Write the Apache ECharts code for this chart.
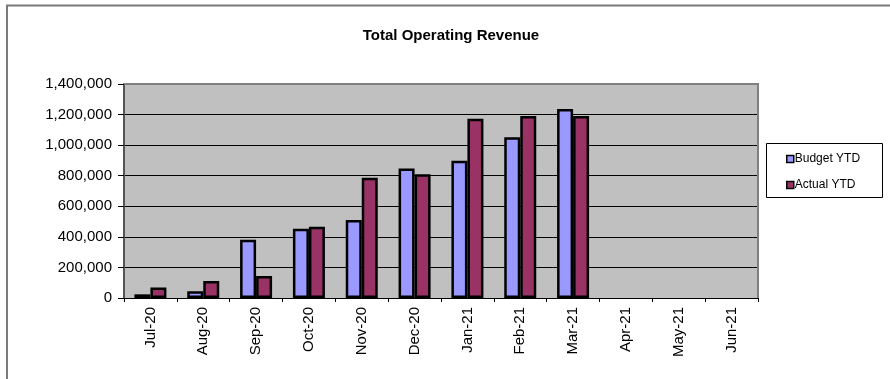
<!DOCTYPE html>
<html>
<head>
<meta charset="utf-8">
<script src="https://cdn.jsdelivr.net/npm/echarts@6/dist/echarts.min.js"></script>
<style>
  html, body { margin: 0; padding: 0; background: #fff; }
  #chart { width: 890px; height: 379px; }
</style>
</head>
<body>
<div id="chart"></div>
<script>
// Monthly year-to-date revenue, FY Jul-20 .. Jun-21
const months = ['Jul-20', 'Aug-20', 'Sep-20', 'Oct-20', 'Nov-20', 'Dec-20',
                'Jan-21', 'Feb-21', 'Mar-21', 'Apr-21', 'May-21', 'Jun-21'];
const budgetYTD = [24000, 44000, 381000, 453000, 510000, 848000,
                   898000, 1051000, 1236000, null, null, null];
const actualYTD = [68000, 111000, 144000, 466000, 787000, 809000,
                   1173000, 1191000, 1191000, null, null, null];

const chart = echarts.init(document.getElementById('chart'), null, { renderer: 'canvas' });

const fontFamily = 'Liberation Sans, Arial, sans-serif';

chart.setOption({
  animation: false,
  backgroundColor: '#ffffff',
  title: {
    text: 'Total Operating Revenue',
    left: 446,
    top: 23,
    textAlign: 'center',
    textStyle: { fontFamily, fontSize: 15, fontWeight: 'bold', color: '#000' }
  },
  graphic: [
    // outer chart frame (top and left edges visible)
    { type: 'polyline', shape: { points: [[7, 379], [7, 5.5], [890, 5.5]] },
      style: { stroke: '#7a7a7a', lineWidth: 2, fill: null } },
    // plot area top / right border
    { type: 'polyline', shape: { points: [[124, 84], [758, 84], [758, 298]] },
      style: { stroke: '#808080', lineWidth: 2, fill: null }, z: 10 },
    // legend frame
    { type: 'rect', shape: { x: 766.5, y: 143.5, width: 116, height: 54 },
      style: { stroke: '#000', lineWidth: 1, fill: '#fff' }, z: 0 }
  ],
  legend: {
    orient: 'vertical',
    left: 781,
    top: 148,
    itemWidth: 7,
    itemHeight: 7,
    itemGap: 14,
    icon: 'rect',
    textStyle: { fontFamily, fontSize: 12, color: '#000', padding: [0, 0, 0, -4] },
    data: [
      { name: 'Budget YTD', itemStyle: { borderColor: '#000', borderWidth: 1.5 } },
      { name: 'Actual YTD', itemStyle: { borderColor: '#000', borderWidth: 1.5 } }
    ]
  },
  grid: {
    left: 124, right: 132, top: 84, bottom: 81,
    show: true,
    backgroundColor: '#c0c0c0',
    borderWidth: 0
  },
  xAxis: {
    type: 'category',
    data: months,
    axisLine: { show: true, lineStyle: { color: '#000', width: 1 } },
    axisTick: { show: true, length: 4, interval: 0, lineStyle: { color: '#000' } },
    axisLabel: {
      rotate: 90, interval: 0, margin: 9,
      fontFamily, fontSize: 15, color: '#000'
    }
  },
  yAxis: {
    type: 'value',
    min: 0, max: 1400000, interval: 200000,
    axisLine: { show: true, lineStyle: { color: '#555', width: 2 } },
    axisTick: { show: true, length: 6, lineStyle: { color: '#000' } },
    axisLabel: {
      margin: 12, fontFamily, fontSize: 15, color: '#000',
      formatter: v => v.toLocaleString('en-US')
    },
    splitLine: { show: true, lineStyle: { color: '#000', width: 1 } }
  },
  series: [
    {
      name: 'Budget YTD', type: 'bar', data: budgetYTD,
      barWidth: 16, barGap: '0%',
      itemStyle: { color: '#9999ff', borderColor: '#000', borderWidth: 2.5 }
    },
    {
      name: 'Actual YTD', type: 'bar', data: actualYTD,
      barWidth: 16,
      itemStyle: { color: '#993366', borderColor: '#000', borderWidth: 2.5 }
    }
  ]
});
</script>
</body>
</html>
